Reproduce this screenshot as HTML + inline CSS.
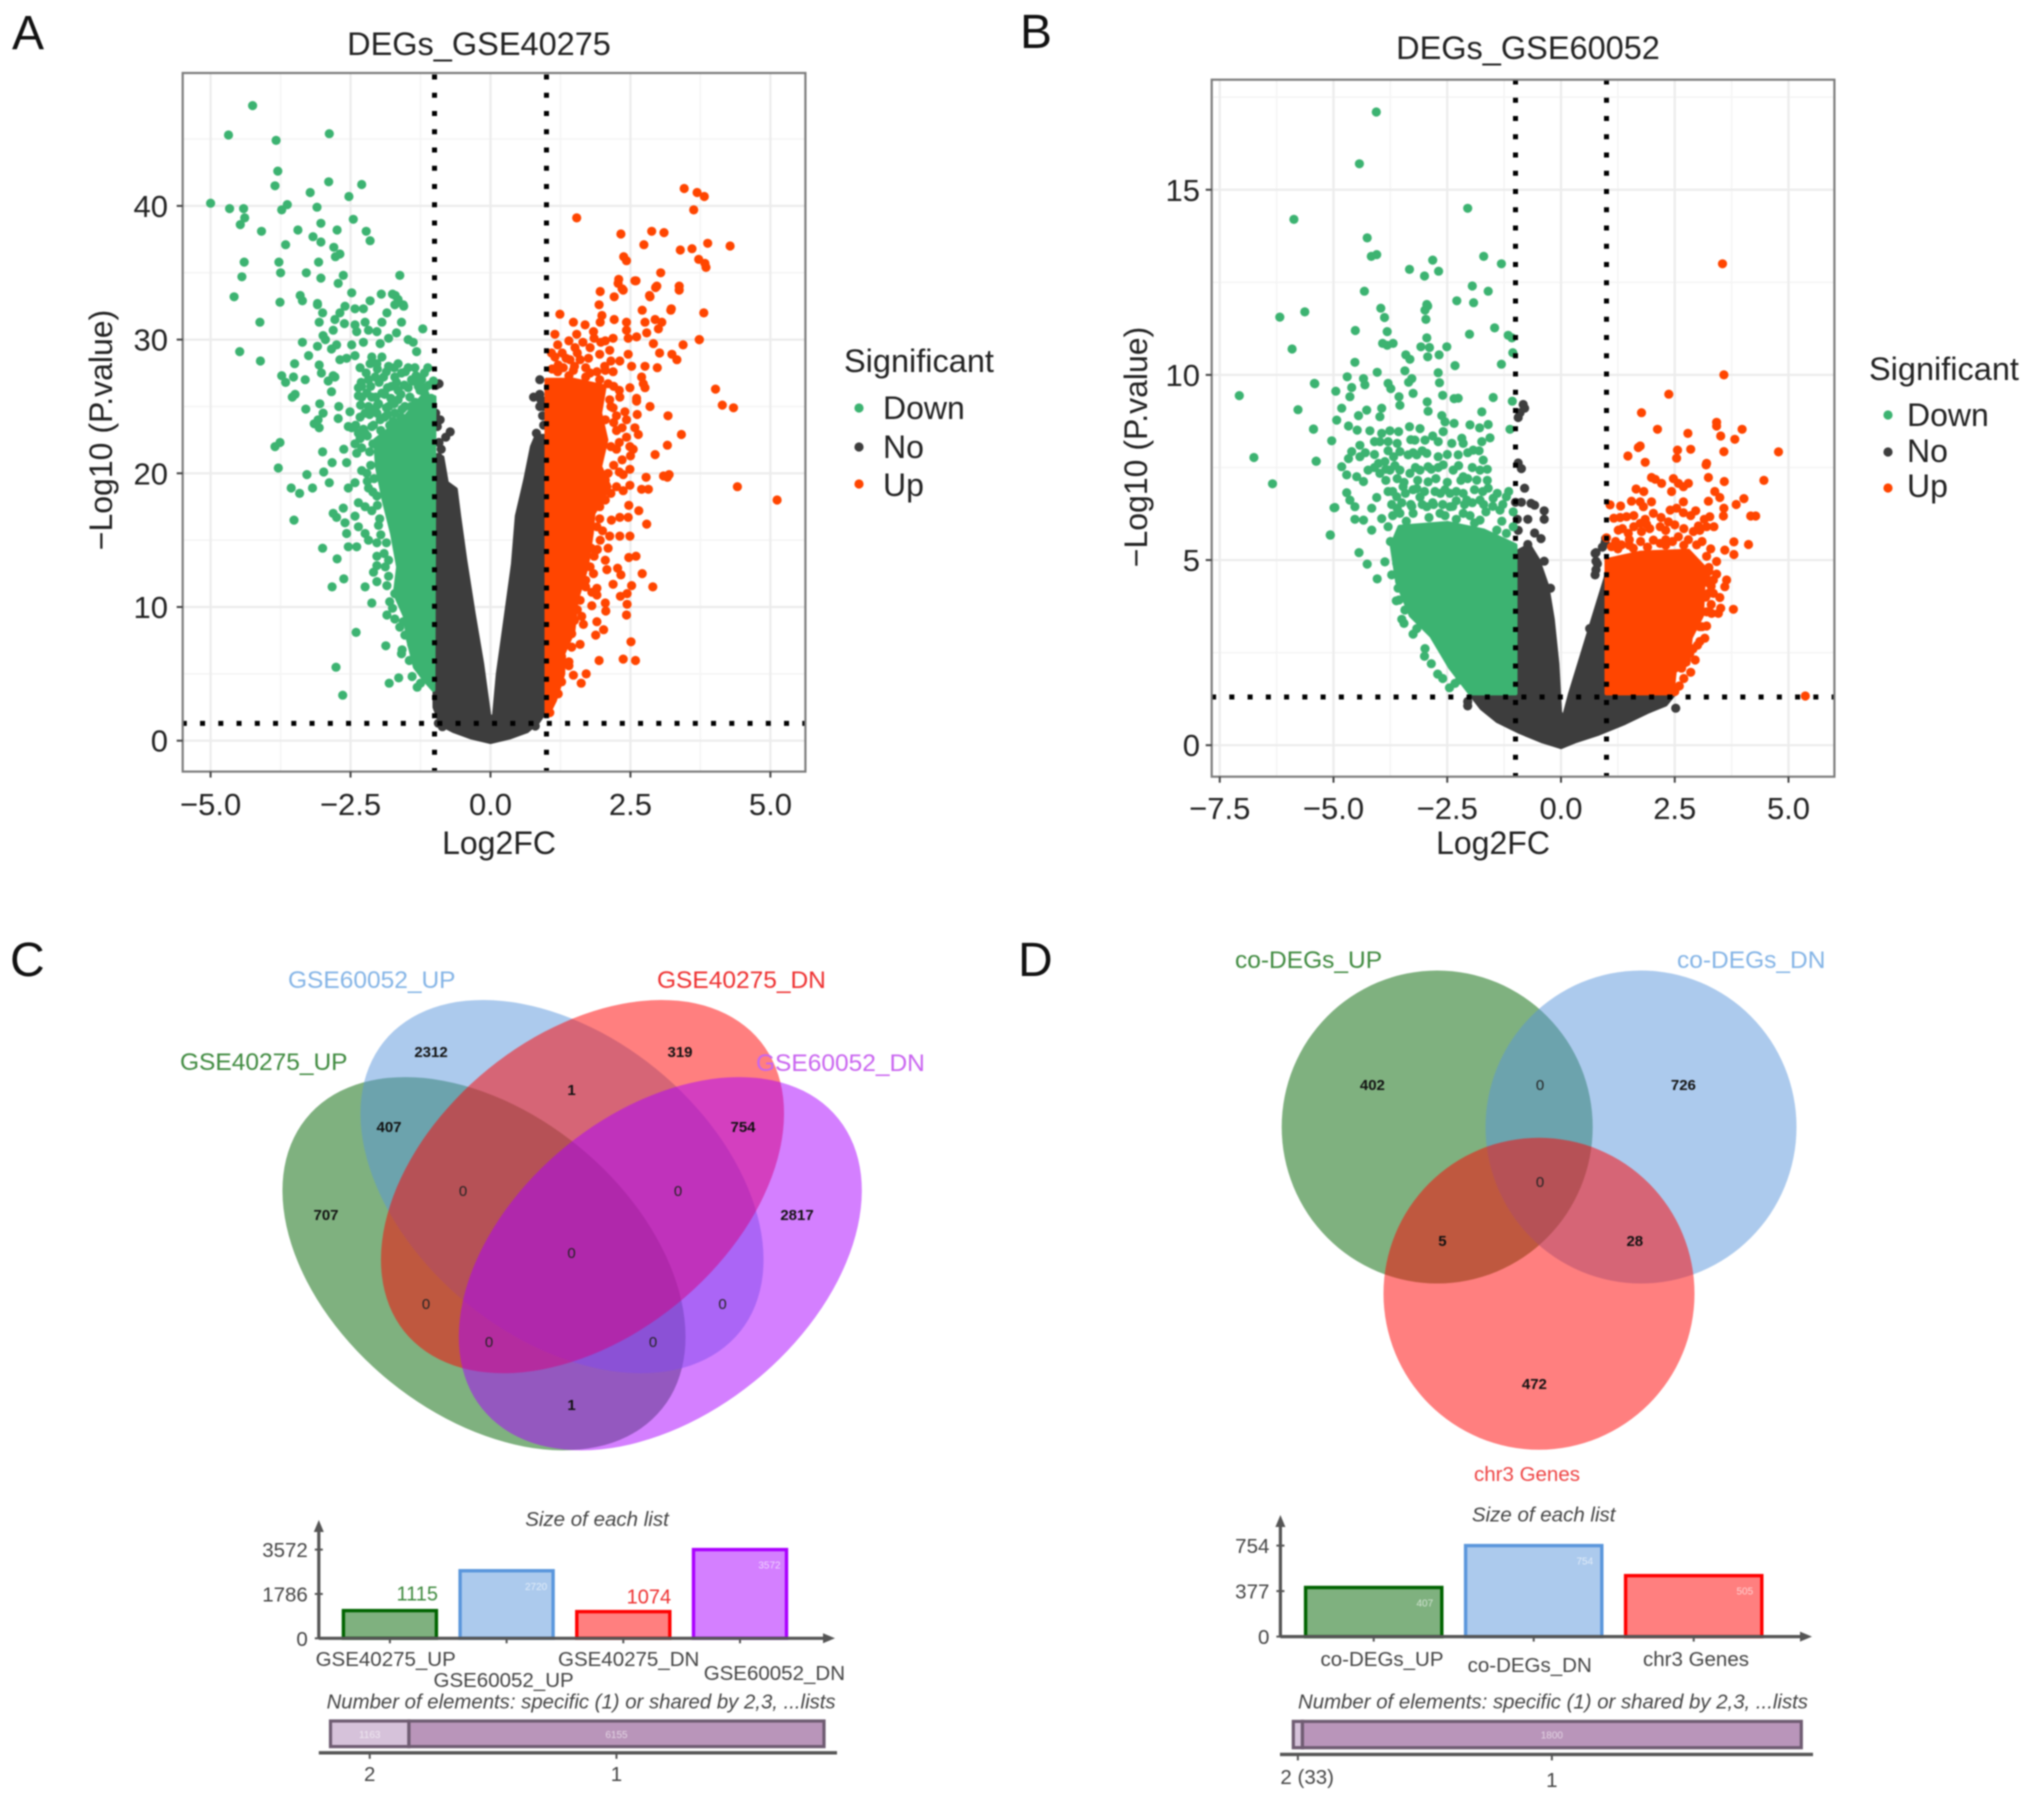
<!DOCTYPE html>
<html lang="en">
<head>
<meta charset="utf-8">
<title>Volcano plots and Venn diagrams</title>
<style>
html,body{margin:0;padding:0;background:#fff;}
#figure{display:block;width:2032px;height:1800px;filter:blur(0.8px);font-family:"Liberation Sans",sans-serif;}
text{font-family:"Liberation Sans",sans-serif;}
</style>
</head>
<body>
<svg id="figure" xmlns="http://www.w3.org/2000/svg" width="2032" height="1800" viewBox="0 0 2032 1800">
<rect x="0" y="0" width="2032" height="1800" fill="#fff"/>
<defs>
<clipPath id="clipA"><rect x="183" y="73" width="622" height="699"/></clipPath>
<clipPath id="clipB"><rect x="1212" y="80" width="622" height="697"/></clipPath>
</defs>

<!-- panel letters -->
<text x="12" y="49" font-size="48" fill="#111">A</text>
<text x="1020" y="48" font-size="48" fill="#111">B</text>
<text x="10" y="976" font-size="48" fill="#111">C</text>
<text x="1018" y="976" font-size="48" fill="#111">D</text>

<!-- panel A -->
<g id="panelA"></g>
<text x="479" y="55" font-size="32.5" text-anchor="middle" fill="#222">DEGs_GSE40275</text>
<text x="499" y="854" font-size="32" text-anchor="middle" fill="#222">Log2FC</text>
<text transform="translate(112,430) rotate(-90)" font-size="32" text-anchor="middle" fill="#222">−Log10 (P.value)</text>
<g>
<text x="844" y="372" font-size="32.5" fill="#222">Significant</text>
<circle cx="859" cy="408" r="4.6" fill="#3cb371"/>
<text x="883" y="419" font-size="32" fill="#222">Down</text>
<circle cx="859" cy="447" r="4.6" fill="#3d3d3d"/>
<text x="883" y="458" font-size="32" fill="#222">No</text>
<circle cx="859" cy="484" r="4.6" fill="#ff4500"/>
<text x="883" y="496" font-size="32" fill="#222">Up</text>
</g>

<!-- panel B -->
<g id="panelB"></g>
<text x="1528" y="59" font-size="32.5" text-anchor="middle" fill="#222">DEGs_GSE60052</text>
<text x="1493" y="854" font-size="32" text-anchor="middle" fill="#222">Log2FC</text>
<text transform="translate(1147,447) rotate(-90)" font-size="32" text-anchor="middle" fill="#222">−Log10 (P.value)</text>
<g>
<text x="1869" y="380" font-size="32.5" fill="#222">Significant</text>
<circle cx="1888" cy="415" r="4.6" fill="#3cb371"/>
<text x="1907" y="426" font-size="32" fill="#222">Down</text>
<circle cx="1888" cy="452" r="4.6" fill="#3d3d3d"/>
<text x="1907" y="462" font-size="32" fill="#222">No</text>
<circle cx="1888" cy="488" r="4.6" fill="#ff4500"/>
<text x="1907" y="497" font-size="32" fill="#222">Up</text>
</g>

<!-- panel C venn -->
<g>
<ellipse rx="1.18" ry="0.78" transform="translate(484,1263.7) scale(201.5,186.6) rotate(45)" fill="#006400" fill-opacity="0.5"/>
<ellipse rx="1.18" ry="0.78" transform="translate(562,1186.6) scale(201.5,186.6) rotate(45)" fill="#5a96dc" fill-opacity="0.5"/>
<ellipse rx="1.18" ry="0.78" transform="translate(582.5,1186.6) scale(201.5,186.6) rotate(-45)" fill="#ff0000" fill-opacity="0.5"/>
<ellipse rx="1.18" ry="0.78" transform="translate(660.3,1263.7) scale(201.5,186.6) rotate(-45)" fill="#aa00ff" fill-opacity="0.5"/>
<text x="288" y="988" font-size="24.5" fill="#84b4e6">GSE60052_UP</text>
<text x="657" y="988" font-size="24.5" fill="#ee3030">GSE40275_DN</text>
<text x="180" y="1070" font-size="24.5" fill="#3f8a3f">GSE40275_UP</text>
<text x="756" y="1071" font-size="24.5" fill="#c964f0">GSE60052_DN</text>
<g font-size="15" text-anchor="middle" fill="#111" font-weight="bold">
<text x="431" y="1057">2312</text>
<text x="680" y="1057">319</text>
<text x="571.5" y="1095">1</text>
<text x="389" y="1132">407</text>
<text x="743" y="1132">754</text>
<text x="326" y="1220">707</text>
<text x="797" y="1220">2817</text>
<text x="571.5" y="1410">1</text>
</g>
<g font-size="15" text-anchor="middle" fill="#222">
<text x="463" y="1196">0</text>
<text x="678" y="1196">0</text>
<text x="571.5" y="1258">0</text>
<text x="426" y="1309">0</text>
<text x="722.5" y="1309">0</text>
<text x="489" y="1347">0</text>
<text x="653" y="1347">0</text>
</g>
</g>

<!-- panel D venn -->
<g>
<ellipse cx="1437.2" cy="1127" rx="155.5" ry="156.5" fill="#006400" fill-opacity="0.5"/>
<ellipse cx="1641" cy="1127" rx="155.5" ry="156.5" fill="#5a96dc" fill-opacity="0.5"/>
<ellipse cx="1539" cy="1293.7" rx="155.5" ry="156" fill="#ff0000" fill-opacity="0.5"/>
<text x="1235" y="968" font-size="24.5" fill="#3f8a3f">co-DEGs_UP</text>
<text x="1677" y="968" font-size="24.5" fill="#84b4e6">co-DEGs_DN</text>
<text x="1474" y="1481" font-size="20.5" fill="#ee4444">chr3 Genes</text>
<g font-size="15" text-anchor="middle" fill="#111" font-weight="bold">
<text x="1372.4" y="1090">402</text>
<text x="1683.4" y="1090">726</text>
<text x="1442.4" y="1246">5</text>
<text x="1634.8" y="1246">28</text>
<text x="1534.4" y="1389">472</text>
</g>
<g font-size="15" text-anchor="middle" fill="#222">
<text x="1540" y="1090">0</text>
<text x="1540" y="1187">0</text>
</g>
</g>

<!-- bar chart C -->
<g id="barsC"></g>
<g fill="#444">
<text x="597" y="1526" font-size="20.5" font-style="italic" text-anchor="middle">Size of each list</text>
<text x="315.6" y="1666" font-size="20.5">GSE40275_UP</text>
<text x="433.5" y="1687" font-size="20.5">GSE60052_UP</text>
<text x="558" y="1666" font-size="20.5">GSE40275_DN</text>
<text x="703.7" y="1680" font-size="20.5">GSE60052_DN</text>
<text x="326.6" y="1708.4" font-size="20.5" font-style="italic" textLength="509" lengthAdjust="spacingAndGlyphs">Number of elements: specific (1) or shared by 2,3, ...lists</text>
</g>
<text x="396.5" y="1600.7" font-size="20" fill="#3f8a3f">1115</text>
<text x="626.6" y="1603.5" font-size="20" fill="#ee3030">1074</text>
<g id="sharedC"></g>

<!-- bar chart D -->
<g id="barsD"></g>
<g fill="#444">
<text x="1543.7" y="1521.6" font-size="20.5" font-style="italic" text-anchor="middle">Size of each list</text>
<text x="1320.5" y="1666" font-size="20.5">co-DEGs_UP</text>
<text x="1467.6" y="1672" font-size="20.5">co-DEGs_DN</text>
<text x="1643" y="1666" font-size="20.5">chr3 Genes</text>
<text x="1298" y="1708.4" font-size="20.5" font-style="italic" textLength="510" lengthAdjust="spacingAndGlyphs">Number of elements: specific (1) or shared by 2,3, ...lists</text>
</g>
<g id="sharedD"></g>
</svg>

<script>
/* ---------- chart data ---------- */
const xTicksA = [-5, -2.5, 0, 2.5, 5];
const xTickLabelsA = ['−5.0', '−2.5', '0.0', '2.5', '5.0'];
const yTicksA = [0, 10, 20, 30, 40];
const yTickLabelsA = ['0', '10', '20', '30', '40'];
const xTicksB = [-7.5, -5, -2.5, 0, 2.5, 5];
const xTickLabelsB = ['−7.5', '−5.0', '−2.5', '0.0', '2.5', '5.0'];
const yTicksB = [0, 5, 10, 15];
const yTickLabelsB = ['0', '5', '10', '15'];
const fcCutoffs = [-1, 1];
const pCutoff = 1.3;

/* Overplotted solid masses, given as outlines in data units (log2FC, -log10 P) */
const noOutlineA = [[-1,20.8],[-.86,21.2],[-.78,19.3],[-.62,18.8],[-.56,16.8],[-.45,13.5],[-.3,9.5],[-.15,5.8],[-.02,1.8],[.06,1.8],[.13,5],[.27,9.2],[.4,13.2],[.47,16.8],[.62,19.5],[.74,22],[.82,22.8],[1,22.8],[1,2.3],[.85,1.4],[.65,.7],[.35,.25],[0,-.1],[-.35,.25],[-.65,.7],[-.88,1.2],[-1,2.5]];
const downOutlineA = [[-1,25.7],[-1.23,25.7],[-1.53,24.2],[-2.06,22.5],[-2.03,20.5],[-1.91,18],[-1.76,15.5],[-1.65,13],[-1.71,11],[-1.53,9.3],[-1.47,7.5],[-1.35,5.5],[-1.17,4.5],[-1.02,3.8]];
const upOutlineA = [[1,27],[1.48,27],[2.04,26.5],[1.96,24.5],[2.07,22.5],[1.96,20.5],[2.13,19],[1.84,17],[1.81,15.5],[1.72,13],[1.54,10.5],[1.48,8.2],[1.3,6.5],[1.3,5],[1.15,3],[1.03,2],[1,2]];
const noOutlineB = [[-1,5.2],[-.7,5.4],[-.5,5],[-.3,4.3],[-.18,3.4],[-.08,2.2],[-.02,.9],[.05,.7],[.2,1.4],[.45,2.4],[.7,3.4],[1,4.6],[1,1.4],[2.5,1.4],[2.3,1.1],[1.9,.9],[1.4,.6],[.8,.3],[.3,.1],[0,-.05],[-.4,.1],[-.9,.35],[-1.4,.65],[-1.75,1],[-2,1.4],[-1,1.4]];
const downOutlineB = [[-1,1.4],[-2,1.4],[-2.44,2.1],[-2.85,2.95],[-3.3,3.5],[-3.6,4.4],[-3.72,5.4],[-3.55,5.9],[-2.5,6],[-1.7,5.8],[-1,5.4]];
const upOutlineB = [[1,1.4],[2.45,1.4],[2.5,2],[2.8,2.2],[2.85,2.9],[3.1,3.5],[3.15,4.8],[2.8,5.25],[1.75,5.2],[1,5]];

/* Individually readable points */
const downPointsA = [[-5,40.2],[-4.66,39.8],[-4.41,39.8],[-4.39,39.1],[-4.47,38.6],[-4.68,45.3],[-4.25,47.5],[-3.83,44.9],[-2.88,45.4],[-3.8,42.6],[-3.85,41.5],[-3.22,41],[-2.89,41.8],[-2.3,41.6],[-2.53,40.7],[-3.1,39.9],[-3.63,40.1],[-3.73,39.7],[-2.45,39],[-4.09,38.1],[-3.44,38.2],[-3.03,38.7],[-2.74,38.2],[-2.22,38.1],[-2.15,37.4],[-3.17,37.7],[-3.03,37.3],[-3.66,37.1],[-2.8,36.9],[-2.69,36.4],[-2.77,36.2],[-3.78,35.8],[-4.4,35.8],[-3.07,35.8],[-4.44,34.7],[-3.75,35],[-3.29,35],[-3.03,34.6],[-2.63,34.8],[-2.72,34.2],[-1.62,34.8],[-4.58,33.2],[-3.76,32.8],[-3.4,33.3],[-3.36,32.9],[-2.48,33.5],[-3.09,32.6],[-4.12,31.3],[-4.48,29.1],[-4.11,28.4],[-1.95,33.4],[-1.75,33.4],[-1.65,33],[-1.7,33.3],[-1.55,32.5],
[-3.36,29.8],[-3.25,28.8],[-3.09,29.5],[-3.5,28.2],[-3.06,28.1],[-3.02,27.5],[-3.73,27.3],[-3.66,26.8],[-3.52,27.2],[-3.31,27],[-2.9,26.9],[-2.78,27.2],[-2.84,26.1],[-3.49,25.9],[-3.54,25.7],[-3.3,24.8],[-3.05,25.2],[-2.99,24.5],[-3.08,24],[-3.15,23.7],[-3.06,23.4],[-2.71,25],[-2.51,24.6],[-2.72,24.1],[-2.54,23.5],[-3.76,22.3],[-3.85,22],[-3.79,20.4],[-3,21.6],[-2.62,21.8],[-2.83,20.8],[-2.57,20.8],[-3.28,19.9],[-2.98,20.1],[-2.88,19.3],[-3.56,18.9],[-3.41,18.5],[-3.18,18.9],[-2.54,18.9],[-2.42,19.3],[-3.51,16.5],[-2.63,17.4],[-2.81,17],[-2.75,16.7],[-2.6,16.3],[-2.57,15.5],[-3,14.4],[-2.54,14.5],[-2.39,14.5],[-2.74,13.6],[-2.62,12.1],[-2.83,11.5],[-2.24,11.5],[-2.12,10.3],[-2.4,8.1],[-1.87,7.1],[-1.59,6.5],[-2.76,5.5],[-1.81,4.3],[-1.64,4.7],[-1.31,4],[-2.64,3.4],
[-3.09,32.7],[-3,32],[-3.06,31.3],[-2.99,30.3],[-2.95,30],[-2.81,30.7],[-2.75,29.6],[-2.84,29.3],[-2.6,32.5],[-2.69,32],[-2.78,31.5],[-2.61,31.2],[-2.42,32.3],[-2.27,32.3],[-2.15,32.9],[-2.42,31.1],[-2.24,31.3],[-2.39,30.6],[-2.27,29.8],[-2.18,30.7],[-2.03,30.6],[-1.94,31.3],[-1.97,29.7],[-1.82,30.1],[-1.68,30.5],[-1.59,31.3],[-1.85,32],[-1.71,32.6],[-1.56,32.6],[-1.21,30.8],[-1.47,30],[-1.38,29.8],[-1.32,29.1],[-2.69,28.5],[-2.57,28.6],[-2.48,29.6],[-2.42,28.8],[-2.33,27.9],[-2.12,28.7],[-1.94,28.7],[-2.03,28.2],[-2.15,28.2],[-2.81,27.3],[-1.82,28],[-1.65,28.2],[-1.47,27.9],[-1.35,27.9],[-1.12,27.9],[-1.23,27],[-1.17,26.4],[-1.02,26.9],[-2.3,26.5],[-2.18,27],[-2.06,27.2],[-1.91,27.2],[-1.71,27.2],[-1.59,27.5],[-1.41,27],[-1.29,26.5],[-2.3,25.7],[-2.12,25.7],[-1.94,26],[-1.77,26.5],[-1.65,26.2],[-1.47,26.4],[-2.18,25],[-2,25.2],[-1.82,25],[-1.65,25.5],[-1.53,25],[-2.36,26.4],[-2.24,24.5],[-2.03,24.5],[-1.89,24.2],[-1.71,24.5],[-2.48,23.4],[-2.36,23],[-2.24,23],[-2.12,23.5],[-2.42,22.2],[-2.39,21.5],[-2.3,20.2],[-2.21,20],[-2.18,18.9],[-2.03,18.3],[-2.36,17.8],[-2.24,17.5],[-2.12,17.2],[-2.42,16.8],[-2.36,16],[-2.24,15.5],[-2.18,15],[-2,16.1],[-2.03,14.8],[-2.03,13.8],[-2.03,13.1],[-2.09,12.6],[-2.03,11.9],[-1.82,12.3],[-1.85,11.6],[-1.71,11],[-1.85,9.4],[-1.71,9.1],[-1.56,8.9],[-1.53,7.9],[-1.41,7.2],[-1.29,5.5],[-1.17,6.5],
[-2.22,27.5],[-2.02,27.8],[-1.86,27.6],[-1.72,27.9],[-1.52,27.6],[-1.33,27.3],[-1.18,27.5],[-2.31,26.8],[-2.14,26.5],[-1.99,26.8],[-1.84,26.4],[-1.68,26.8],[-1.54,26.6],[-1.38,26.9],[-1.26,26.2],[-1.1,26.6],[-2.36,25.8],[-2.21,26],[-2.05,25.7],[-1.89,25.9],[-1.78,25.6],[-1.6,25.9],[-1.44,25.7],[-1.34,25.3],[-1.17,25.9],[-1.06,25.6],[-2.32,25.1],[-2.14,24.8],[-2.02,25.1],[-1.86,24.9],[-1.72,25.2],[-1.58,24.8],[-1.42,25],[-2.33,24.2],[-2.16,24.4],[-1.97,24],[-1.84,24.4],[-1.74,23.9],[-1.6,24.2],[-2.41,23.6],[-2.27,23.3],[-2.09,23.6],[-1.96,23.2],[-1.8,23.6],[-1.66,23.4],[-2.33,22.6],[-2.2,22.8],[-2.1,22.2],[-2.3,21.9],[-2.16,21.6],[-2.14,20.6],[-2.2,19.4],[-2.08,19.6],[-2.1,18.6],[-2.02,17.6],[-1.98,16.6],[-1.96,15.4],[-1.86,14.8],[-1.9,14],[-1.82,13.5],[-1.88,13],[-1.8,10.4],[-1.75,9.9],[-1.62,8.5],[-1.58,6.8],[-1.45,6],[-1.4,4.8],[-1.25,4.3]];

const noPointsA = [[-.97,26.6],[-.92,26.7],[-.98,24.5],[-.9,24],[-.95,23.5],[-.72,23.1],[-.8,22.7],[-.92,22.3],[-.88,21.8],[-.93,21.2],[.77,25.7],[.88,25.9],[.88,25],[.95,25],[.88,27],[.93,24.3],[.95,23.6],[.82,23],[.85,22.1],[.9,25.5],[-.93,1.3],[-.86,1.05],[.8,1.1]];

const upPointsA = [[1.96,33.6],[2.21,33.2],[2.28,34.2],[2.37,33.7],[2.6,34.4],[2.97,34],[2.84,33.3],[3.37,34],[3.37,33.7],[1.94,32.6],[1.24,31.9],[1.48,31.3],[1.69,31.1],[1.99,31.8],[1.96,31.3],[2.21,31.5],[2.43,31.3],[2.71,32.2],[3.23,32.3],[3.81,32],[2.76,31.3],[2.94,31.5],[3.06,31.3],[3,30.8],[2.43,30.7],[1.15,30.4],[1.54,30.4],[1.84,30.6],[2.19,30.1],[2.46,30.1],[2.61,30.2],[2.79,30.5],[3.73,30],[3.44,29.6],[2.91,29.7],[1.09,29],[1.28,29],[1.51,29.4],[1.78,29.4],[2.13,29.2],[1.97,29.8],[2.46,28.9],[3.02,29],[3.24,28.9],[3.33,28.5],[1.42,28.5],[1.6,28.5],[2.31,28.4],[1.21,28.1],[2.04,28],[2.52,28],[2.76,28],[2.98,27.9],[1.48,27.7],[1.78,27.5],[2.19,27.6],[2.7,27.2],[2.73,26.7],[2.76,26.4],[2.49,26.4],[4.02,26.3],[4.14,25.1],[2.85,25],[2.61,25.6],[2.61,25.4],[2.31,25.7],[2.13,25.5],[2.19,24.9],[2.4,24.6],[2.62,24.4],[3.17,24.3],[2.43,24],[2.58,23.4],[2.64,22.9],[3.41,22.9],[3.16,22.1],[2.43,22.7],[2.25,23.2],[2.49,22],[2.94,21.4],[2.55,21.8],[2.25,21.8],[2.49,20.3],[2.37,19.9],[2.78,19.7],[3.09,19.8],[3.19,19.9],[2.49,19.1],[2.7,18.8],[2.82,18.8],[2.37,18.7],[2.47,17.6],[2.65,17.2],[2.16,16.5],[2.31,16.7],[2.46,16.7],[2.79,16.2],[2.13,15.3],[2.31,15.3],[2.49,15.3],[1.96,15],[1.91,14.3],[2.1,14.4],[2.05,13.5],[2.47,13.7],[2.6,13.8],[2.08,12.8],[2.27,12.9],[2.33,12.4],[2.71,12.5],[1.84,12.5],[2.19,11.7],[2.52,11.6],[2.9,11.5],[1.9,11.4],[1.81,11.1],[1.9,10.9],[2.32,10.8],[2.44,11],[2.44,10.2],[1.81,10.1],[2.05,10.3],[2.06,9.7],[2.43,9.4],[1.63,9.3],[1.66,8.7],[1.9,8.9],[2.02,8.3],[1.88,7.9],[2.51,7.4],[1.6,7.2],[1.45,7],[1.94,6],[2.37,6.1],[2.59,6],[1.27,6.3],[1.71,5],[1.62,4.3],[1.48,4.9],[1.27,4.4],[1.21,3.5],[1.06,2.1],
[3.46,41.3],[3.69,41],[3.82,40.7],[3.63,39.7],[1.54,39.1],[2.33,37.9],[2.88,38.1],[3.1,38],[3.88,37.2],[4.28,37],[2.74,37.1],[3.39,36.7],[3.6,36.8],[2.38,36.2],[2.43,35.9],[3.72,36],[3.83,35.7],[3.85,35.4],[3.04,35],[2.58,34.4],[2.29,34.5],[2.35,33.8],[2.95,33.9],[2.85,33.2],[3.22,32.2],[3.73,30],[4.34,24.9],[4.41,19],[5.12,18],[3.16,19.7],
[1.2,27.6],[1.4,27.3],[1.7,27.2],[1.95,27],[2.1,26.7],
[1.1,27.8],[1.3,27.9],[1.5,28],[1.7,27.9],[1.9,27.6],[2.05,27.7],[1.15,28.7],[1.35,28.6],[1.55,29],[1.75,28.6],[1.95,28.9],[2.15,28.4],[1.2,29.6],[1.4,29.9],[1.65,29.8],[1.85,30.1],[2.05,29.9],[2.2,26.5],[2.3,26.2],[2.15,25],[2.25,24.3],[2.05,24],[2.2,23.8],[2.35,23.4],[2.3,22.3],[2.15,22],[2.35,21],[2.5,21.3],[2.2,20.6],[2.1,20],[2.3,20.1],[2.05,19.5],[2.25,19],[2.15,18.5],[2.05,18],[1.95,17.5],[1.95,16.6],[1.9,16],[2,15.7],[1.8,14.4],[1.85,13.8],[1.78,13],[1.7,12],[1.7,11.5],[1.6,10.5],[1.55,9.8],[1.5,9],[1.45,8],[1.35,7.5],[1.4,5.6],[1.4,5.9],[1.25,5.3],[1.2,4.4]];

const downPointsB = [[-4.06,17.1],[-4.43,15.7],[-5.87,14.2],[-2.05,14.5],[-4.26,13.7],[-4.17,13.2],[-4.05,13.25],[-1.7,13.2],[-2.82,13.1],[-1.31,13],[-3.33,12.85],[-2.69,12.8],[-3,12.67],[-4.32,12.26],[-1.95,12.4],[-2.29,12],[-1.92,11.95],[-1.6,12.26],[-2.93,11.86],[-6.18,11.56],[-5.63,11.7],[-1.08,11],[-7.07,9.44],[-6.75,7.77],[-6.34,7.06],[-5.91,10.7],[-5.78,9.06],[-5.41,9.76],[-5.44,8.53],[-5.38,7.67],[-4.99,6.41],[-5.07,5.68],
[-3.96,11.8],[-3.88,11.55],[-3.82,11.17],[-4.52,11.2],[-2.95,11.9],[-2.99,11.75],[-2.97,11.5],[-2.95,11],[-2.01,11.1],[-1.46,11.27],[-1.16,11.07],[-3.92,10.85],[-3.82,10.8],[-3.69,10.85],[-3.08,10.76],[-2.89,10.74],[-2.51,10.76],[-1.06,10.6],[-3.41,10.54],[-3.32,10.42],[-2.93,10.49],[-2.68,10.54],[-4.53,10.34],[-2.33,10.25],[-1.31,10.29],[-4.04,10.07],[-4.7,9.95],[-4.34,9.9],[-4.31,9.73],[-3.43,10.11],[-3.28,9.9],[-3.35,9.8],[-2.7,10.06],[-2.67,9.79],[-5.42,9.77],[-4.95,9.56],[-4.6,9.66],[-4.64,9.41],[-3.8,9.77],[-3.74,9.63],[-3.25,9.5],[-2.6,9.45],[-2.35,9.36],[-2.26,9.37],[-3.56,9.41],[-3.54,9.18],[-2.94,9.27],[-2.92,9.02],[-1.49,9.39],[-1.07,9.29],[-4.82,9.1],[-3.94,9.1],[-3.98,8.87],[-4.27,9.05],[-4.45,8.9],[-4.93,8.78],[-1.74,9],[-2.62,8.9],[-5.44,8.54],[-4.67,8.62],[-4.48,8.51],[-4.2,8.49],[-3.94,8.42],[-3.76,8.49],[-3.57,8.47],[-3.33,8.6],[-3.1,8.55],[-2.82,8.35],[-2.55,8.73],[-2.35,8.69],[-2.59,8.47],[-2,8.65],[-1.79,8.57],[-1.6,8.66],[-1.12,8.53],[-5.04,8.22],[-3.21,8.24],[-2.99,8.24],[-2.18,8.29],[-1.74,8.2],[-1.56,8.3],[-3.98,8.2],[-3.8,8.2],[-4.42,8.1],[-4.6,7.93],[-5.38,7.67],[-4.82,7.52],[-4.67,7.74],[-4.42,7.79],[-4.24,7.43],[-4.01,7.61],[-3.87,7.66],[-3.68,7.79],[-3.54,7.93],[-3.36,7.84],[-3.17,7.84],[-2.95,7.88],[-2.7,7.79],[-2.26,7.84],[-2.15,8.15],[-1.93,7.97],[-1.71,7.7],[-4.71,7.3],[-4.49,7.25],[-4.34,7.12],[-3.98,7.34],[-3.76,7.43],[-3.54,7.43],[-3.32,7.34],[-3.1,7.43],[-2.92,7.52],[-2.59,7.57],[-2.37,7.43],[-2.15,7.25],[-1.78,7.43],[-1.85,7.16],[-4.71,6.82],[-4.64,6.62],[-4.97,6.42],[-4.53,6.44],[-4.16,6.4],[-4.05,6.69],[-3.8,6.85],[-3.61,6.71],[-3.47,6.98],[-3.17,6.93],[-2.92,7.11],[-2.77,6.85],[-2.44,6.8],[-2.07,6.62],[-1.78,6.62],[-1.6,6.94],[-1.2,6.71],[-1.49,6.67],[-1.34,6.35],[-1.05,6.3],[-5.07,5.67],[-4.53,6.1],[-4.34,6.08],[-4.16,5.81],[-3.94,6.12],[-3.8,5.9],[-3.54,6.26],[-3.25,6.26],[-2.95,6.44],[-2.66,6.26],[-2.44,6.44],[-2.15,6.26],[-1.78,6.08],[-1.41,5.81],[-1.2,5.72],[-4.44,5.2],[-4.26,4.89],[-3.87,4.95],[-4.04,4.49],[-3.61,4.91],[-3.58,4.24],[-3.56,3.92],[-3.43,3.65],[-3.45,3.29],[-3.17,3.15],[-2.99,2.61],[-2.71,1.92],[-2.33,1.67],[-2.23,1.76],
[-3.3,6.5],[-3.6,6.4],[-3.1,6.7],[-2.8,6.5],[-2.55,6.2],[-2.3,6.6],[-2,6.2],[-1.65,6.3],[-1.3,6.05],[-1.05,5.9],[-3.7,6.2],[-3.4,6.05],[-2.9,6.15],[-2.3,6.1],[-1.9,6],
[-3.72,6.5],[-3.5,6.55],[-3.28,6.45],[-3.05,6.5],[-2.82,6.55],[-2.6,6.5],[-2.38,6.45],[-2.12,6.5],[-1.95,6.55],[-1.7,6.5],[-1.5,6.45],[-1.28,6.5],[-3.7,6.85],[-3.42,6.8],[-3.25,6.9],[-3,6.85],[-2.65,6.8],[-2.55,6.9],[-2.3,6.85],[-2.15,6.8],[-1.9,6.9],[-1.72,6.85],[-1.4,6.8],[-1.15,6.85],[-3.85,7.15],[-3.6,7.2],[-3.45,7.1],[-3.15,7.15],[-2.75,7.2],[-2.5,7.1],[-2.2,7.15],[-2.05,7.2],[-1.62,7.15],[-4.1,7.5],[-3.85,7.45],[-3.65,7.55],[-3.2,7.5],[-2.85,7.45],[-2.7,7.5],[-2.25,7.55],[-1.95,7.5],[-1.62,7.45],[-4.3,7.9],[-4.1,7.85],[-3.8,7.95],[-3.25,7.9],[-3.05,7.95],[-2.5,7.85],[-2.05,7.9],[-1.8,7.95],[-4.1,8.2],[-3.6,8.15],[-3.3,8.25],[-2.7,8.2],[-2.4,8.15],[-3.75,5.5],[-3.62,3.9],[-3.5,3.4],[-3.25,3],[-3,2.4],[-2.85,2.2],[-2.6,1.8],[-2.45,1.55],[-3.72,4.6],[-3.4,4]];

const noPointsB = [[-.9,8.98],[-.83,9.2],[-.8,9.1],[-.94,8.85],[-.94,7.62],[-.87,7.47],[-.8,6.94],[-1,6.56],[-.87,6.56],[-.66,6.53],[-.58,6.48],[-.37,6.33],[-.37,6.1],[-.96,6.1],[-.73,6.1],[-.94,5.8],[-.58,5.73],[-.44,5.58],[-.73,5.42],[-.37,4.97],[-.23,4.24],[.77,5.2],[.77,4.97],[.77,4.74],[.98,5.58],[.91,5.35],[.63,3.15],[-2.05,1.18],[-2.05,1.06],[2.52,1],[2.12,1.15],[.75,5.18],[.8,4.9],[.75,4.6],[.97,5.47]];

const upPointsB = [[3.55,13],[3.58,10],[5.37,1.33],[2.37,9.48],[1.77,8.98],[3.42,8.72],[3.42,8.62],[2.12,8.53],[3.98,8.53],[2.79,8.42],[3.51,8.35],[3.82,8.26],[1.74,8.08],[1.7,8.04],[2.56,7.97],[2.85,7.99],[3.58,7.93],[4.78,7.92],[1.47,7.81],[2.54,7.75],[1.85,7.64],[3.2,7.61],[3.19,7.57],[1.99,7.23],[2.07,7.18],[2.21,7.07],[2.47,7.2],[2.58,7.07],[2.69,6.98],[2.8,7.07],[3.24,7.23],[3.59,7.12],[4.46,7.15],[1.65,6.92],[1.82,6.85],[2.43,6.85],[3.38,6.85],[3.49,6.69],[4.02,6.66],[1.55,6.59],[1.74,6.57],[1.99,6.57],[2.69,6.57],[3.24,6.59],[3.85,6.5],[1.08,6.49],[1.31,6.46],[1.81,6.44],[2.03,6.26],[2.4,6.35],[2.54,6.4],[2.69,6.28],[2.96,6.33],[3.58,6.4],[3.57,6.19],[3.27,6.17],[4.17,6.19],[4.28,6.19],[1.16,6.13],[1.44,6.17],[1.74,5.99],[1.88,5.97],[2.18,5.9],[2.36,6.03],[2.5,5.95],[3.02,5.92],[3.2,5.9],[3.36,5.9],[2.91,5.77],[1.26,5.81],[1.48,5.72],[1.77,5.77],[1,5.6],[2.58,5.63],[2.03,5.54],[3.8,5.49],[4.12,5.42],[1.11,5.36],[1.33,5.41],[1.59,5.32],[2.18,5.45],[2.98,5.41],[3.29,5.3],[3.6,5.27],[3.8,5.15],[3.42,4.96],[3.42,4.62],[3.35,4.46],[3.64,4.46],[3.6,4.28],[3.24,4.1],[3.49,3.99],[3.51,3.7],[3.79,3.67],[3.31,3.56],[3.46,3.56],[3.2,3.22],[3.16,2.89],[3.05,2.8],[2.83,2.48],[2.85,1.97],[2.65,2.08],[2.5,1.45],
[1.25,5.3],[1.5,5.4],[1.9,5.35],[2.3,5.4],[2.7,5.4],[3.2,5.1],[3.25,4.8],[3.2,4.5],[3.18,4],[3.05,3.2],[2.9,2.6],[2.7,2.3],
[1.2,5.5],[1.5,5.55],[1.75,5.5],[2.3,5.55],[2.45,5.5],[2.8,5.55],[3.1,5.5],[1.35,5.85],[1.6,5.9],[1.95,5.85],[2.3,5.8],[2.7,5.85],[3.05,5.8],[1.3,6.15],[1.6,6.2],[1.85,6.1],[2.2,6.15],[2.85,6.2],[3.15,6.1],[3.25,4.7],[3.3,4.3],[3.3,3.8],[3.2,3.6],[3.1,3.2],[3,2.7],[2.95,2.3],[2.7,1.8],[2.6,1.6],[3.35,4.1],[3.2,4.4]];

const listSizesC = [1115, 2720, 1074, 3572];
const listNamesC = ['GSE40275_UP', 'GSE60052_UP', 'GSE40275_DN', 'GSE60052_DN'];
const listYTicksC = [0, 1786, 3572];
const listSizesD = [407, 754, 505];
const listNamesD = ['co-DEGs_UP', 'co-DEGs_DN', 'chr3 Genes'];
const listYTicksD = [0, 377, 754];
const sharedCountsC = [1163, 6155];
const sharedLabelsC = ['2', '1'];
const sharedCountsD = [33, 1800];
const sharedLabelsD = ['2 (33)', '1'];

/* ---------- drawing ---------- */
const NS = 'http://www.w3.org/2000/svg';
function make(tag, parent, attrs) {
  const el = document.createElementNS(NS, tag);
  for (const k in attrs) el.setAttribute(k, attrs[k]);
  parent.appendChild(el);
  return el;
}

function drawVolcano(cfg) {
  const g = document.getElementById(cfg.id);
  const sx = v => cfg.x0 + cfg.ux * v;
  const sy = v => cfg.y0 - cfg.uy * v;
  const bg = make('rect', g, {x: cfg.left, y: cfg.top, width: cfg.right - cfg.left, height: cfg.bottom - cfg.top, fill: '#fff'});
  
  

  const stepX = cfg.xTicks[1] - cfg.xTicks[0];
  const stepY = cfg.yTicks[1] - cfg.yTicks[0];
  const minorX = [];
  for (let v = cfg.xTicks[0] - stepX / 2; v <= cfg.xTicks[cfg.xTicks.length - 1] + stepX / 2; v += stepX) minorX.push(v);
  const minorY = [];
  for (let v = cfg.yTicks[0] - stepY / 2; v <= cfg.yTicks[cfg.yTicks.length - 1] + stepY; v += stepY) minorY.push(v);

  minorX.forEach(v => {
    if (sx(v) < cfg.left || sx(v) > cfg.right) return;
    const l = make('line', g, {x1: sx(v), x2: sx(v), y1: cfg.top, y2: cfg.bottom, stroke: '#f4f4f4', 'stroke-width': 1.5});
    
    
  });
  minorY.forEach(v => {
    if (sy(v) < cfg.top || sy(v) > cfg.bottom) return;
    const l = make('line', g, {x1: cfg.left, x2: cfg.right, y1: sy(v), y2: sy(v), stroke: '#f4f4f4', 'stroke-width': 1.5});
    
    
  });
  cfg.xTicks.forEach(v => {
    const l = make('line', g, {x1: sx(v), x2: sx(v), y1: cfg.top, y2: cfg.bottom, stroke: '#ececec', 'stroke-width': 2.2});
    
    
  });
  cfg.yTicks.forEach(v => {
    const l = make('line', g, {x1: cfg.left, x2: cfg.right, y1: sy(v), y2: sy(v), stroke: '#ececec', 'stroke-width': 2.2});
    
    
  });

  const marks = make('g', g, {'clip-path': 'url(#' + cfg.clip + ')'});
  
  

  cfg.series.forEach(s => {
    const poly = make('polygon', marks, {
      points: s.outline.map(p => sx(p[0]).toFixed(1) + ',' + sy(p[1]).toFixed(1)).join(' '),
      fill: s.color, stroke: s.color, 'stroke-width': 4, 'stroke-linejoin': 'round'
    });
    
    
    s.points.forEach(p => {
      const c = make('circle', marks, {cx: sx(p[0]).toFixed(1), cy: sy(p[1]).toFixed(1), r: 4.6, fill: s.color});
      
      
    });
  });

  const lines = make('g', g, {'clip-path': 'url(#' + cfg.clip + ')'});
  
  
  fcCutoffs.forEach(v => {
    const l = make('line', lines, {x1: sx(v), x2: sx(v), y1: cfg.top, y2: cfg.bottom, stroke: '#000', 'stroke-width': 5, 'stroke-dasharray': '5 13.25', 'stroke-dashoffset': cfg.vOffset});
    
    
  });
  const h = make('line', lines, {x1: cfg.left, x2: cfg.right, y1: sy(pCutoff), y2: sy(pCutoff), stroke: '#000', 'stroke-width': 5, 'stroke-dasharray': '5 13.25', 'stroke-dashoffset': cfg.hOffset});
  
  

  const frame = make('rect', g, {x: cfg.left, y: cfg.top, width: cfg.right - cfg.left, height: cfg.bottom - cfg.top, fill: 'none', stroke: '#7d7d7d', 'stroke-width': 2.2});
  
  

  cfg.xTicks.forEach((v, i) => {
    const t = make('line', g, {x1: sx(v), x2: sx(v), y1: cfg.bottom, y2: cfg.bottom + 6, stroke: '#444', 'stroke-width': 2});
    
    
    const tx = make('text', g, {x: sx(v), y: cfg.xLabelY, 'font-size': 31, 'text-anchor': 'middle', fill: '#222'});
    tx.textContent = cfg.xLabels[i];
    
    
  });
  cfg.yTicks.forEach((v, i) => {
    const t = make('line', g, {x1: cfg.left - 6, x2: cfg.left, y1: sy(v), y2: sy(v), stroke: '#444', 'stroke-width': 2});
    
    
    const tx = make('text', g, {x: cfg.yLabelX, y: sy(v) + 11, 'font-size': 31, 'text-anchor': 'end', fill: '#222'});
    tx.textContent = cfg.yLabels[i];
    
    
  });
}

drawVolcano({
  id: 'panelA', clip: 'clipA', left: 182.7, right: 805.4, top: 73, bottom: 771.6,
  x0: 490.5, ux: 55.98, y0: 740.7, uy: 13.37, xLabelY: 815, yLabelX: 168, hOffset: 0.9, vOffset: -1.5,
  xTicks: xTicksA, xLabels: xTickLabelsA, yTicks: yTicksA, yLabels: yTickLabelsA,
  series: [
    {name: 'no', color: '#3d3d3d', outline: noOutlineA, points: noPointsA},
    {name: 'down', color: '#3cb371', outline: downOutlineA, points: downPointsA},
    {name: 'up', color: '#ff4500', outline: upOutlineA, points: upPointsA}
  ]
});
drawVolcano({
  id: 'panelB', clip: 'clipB', left: 1211.7, right: 1834.4, top: 79.7, bottom: 776.7,
  x0: 1561, ux: 45.5, y0: 745.2, uy: 37.03, xLabelY: 819, yLabelX: 1200, hOffset: 0.6, vOffset: 0.2,
  xTicks: xTicksB, xLabels: xTickLabelsB, yTicks: yTicksB, yLabels: yTickLabelsB,
  series: [
    {name: 'no', color: '#3d3d3d', outline: noOutlineB, points: noPointsB},
    {name: 'down', color: '#3cb371', outline: downOutlineB, points: downPointsB},
    {name: 'up', color: '#ff4500', outline: upOutlineB, points: upPointsB}
  ]
});

function drawBars(cfg) {
  const g = document.getElementById(cfg.id);
  const maxV = cfg.yTicks[cfg.yTicks.length - 1];
  const sy = v => cfg.axisY - (v / maxV) * cfg.height;
  cfg.values.forEach((v, i) => {
    const x = cfg.firstX + i * cfg.step;
    const r = make('rect', g, {x: x, y: sy(v), width: cfg.barW, height: cfg.axisY - sy(v), fill: cfg.fills[i], 'fill-opacity': 0.5, stroke: cfg.fills[i], 'stroke-width': 3.4});
    
    
    const t = make('line', g, {x1: x + cfg.barW / 2, x2: x + cfg.barW / 2, y1: cfg.axisY, y2: cfg.axisY + 5, stroke: '#555', 'stroke-width': 2});
    
    
    if (cfg.axisY - sy(v) >= 40) {
      const l = make('text', g, {x: x + cfg.barW - 17, y: sy(v) + 19, 'font-size': 10, 'text-anchor': 'middle', fill: '#fff', 'fill-opacity': 0.65});
      l.textContent = v;
      
      
    }
  });
  const xa = make('line', g, {x1: cfg.axisX, x2: cfg.tipX - 8, y1: cfg.axisY, y2: cfg.axisY, stroke: '#555', 'stroke-width': 3.2});
  
  
  const xh = make('polygon', g, {points: cfg.tipX + ',' + cfg.axisY + ' ' + (cfg.tipX - 12) + ',' + (cfg.axisY - 5) + ' ' + (cfg.tipX - 12) + ',' + (cfg.axisY + 5), fill: '#555'});
  
  
  const ya = make('line', g, {x1: cfg.axisX, x2: cfg.axisX, y1: cfg.axisY, y2: cfg.tipY + 8, stroke: '#555', 'stroke-width': 3.2});
  
  
  const yh = make('polygon', g, {points: cfg.axisX + ',' + cfg.tipY + ' ' + (cfg.axisX - 5) + ',' + (cfg.tipY + 12) + ' ' + (cfg.axisX + 5) + ',' + (cfg.tipY + 12), fill: '#555'});
  
  
  cfg.yTicks.forEach(v => {
    const t = make('line', g, {x1: cfg.axisX - 4, x2: cfg.axisX + 4, y1: sy(v), y2: sy(v), stroke: '#555', 'stroke-width': 2});
    
    
    const l = make('text', g, {x: cfg.axisX - 11, y: sy(v) + 7.5, 'font-size': 20.5, 'text-anchor': 'end', fill: '#444'});
    l.textContent = v;
    
    
  });
}

drawBars({
  id: 'barsC', values: listSizesC, names: listNamesC, yTicks: listYTicksC,
  fills: ['#006400', '#5a96dc', '#ff0000', '#aa00ff'],
  axisX: 318.8, axisY: 1638.3, tipX: 835, tipY: 1520, height: 88.7,
  firstX: 343.4, step: 116.7, barW: 93
});
drawBars({
  id: 'barsD', values: listSizesD, names: listNamesD, yTicks: listYTicksD,
  fills: ['#006400', '#5a96dc', '#ff0000'],
  axisX: 1280.4, axisY: 1636.6, tipX: 1812, tipY: 1515, height: 91,
  firstX: 1305.6, step: 160, barW: 136.2
});

function drawShared(cfg) {
  const g = document.getElementById(cfg.id);
  const total = cfg.values.reduce((a, b) => a + b, 0);
  const sw = v => (v / total) * (cfg.right - cfg.left);
  let x = cfg.left;
  cfg.values.forEach((v, i) => {
    const w = sw(v);
    const r = make('rect', g, {x: x, y: cfg.top, width: w, height: cfg.bottom - cfg.top, fill: cfg.fills[i], stroke: '#6f5c72', 'stroke-width': 3.2});
    
    
    const mid = x + w / 2;
    const t = make('line', g, {x1: mid, x2: mid, y1: cfg.axisY, y2: cfg.axisY + 6, stroke: '#555', 'stroke-width': 2});
    
    
    if (w > 40) {
      const inner = make('text', g, {x: mid, y: (cfg.top + cfg.bottom) / 2 + 4, 'font-size': 10, 'text-anchor': 'middle', fill: '#fff', 'fill-opacity': 0.6});
      inner.textContent = v;
      
      
    }
    const lab = make('text', g, {x: i === 0 && cfg.startLabelX ? cfg.startLabelX : mid, y: cfg.labelY[i], 'font-size': 20.5, 'text-anchor': i === 0 && cfg.startLabelX ? 'start' : 'middle', fill: '#444'});
    lab.textContent = cfg.labels[i];
    
    
    x += w;
  });
  const a = make('line', g, {x1: cfg.axisL, x2: cfg.axisR, y1: cfg.axisY, y2: cfg.axisY, stroke: '#555', 'stroke-width': 3.4});
  
  
}

drawShared({
  id: 'sharedC', values: sharedCountsC, labels: sharedLabelsC, fills: ['#d6c2da', '#b995ba'],
  left: 330.5, right: 824, top: 1721, bottom: 1746.6, axisY: 1752.8, axisL: 318.8, axisR: 837, labelY: [1781, 1781]
});
drawShared({
  id: 'sharedD', values: sharedCountsD, labels: sharedLabelsD, fills: ['#d6c2da', '#b995ba'],
  left: 1293.3, right: 1801.3, top: 1721.4, bottom: 1747.7, axisY: 1754.4, axisL: 1280, axisR: 1813, labelY: [1784, 1787], startLabelX: 1280.4
});
</script>
</body>
</html>
